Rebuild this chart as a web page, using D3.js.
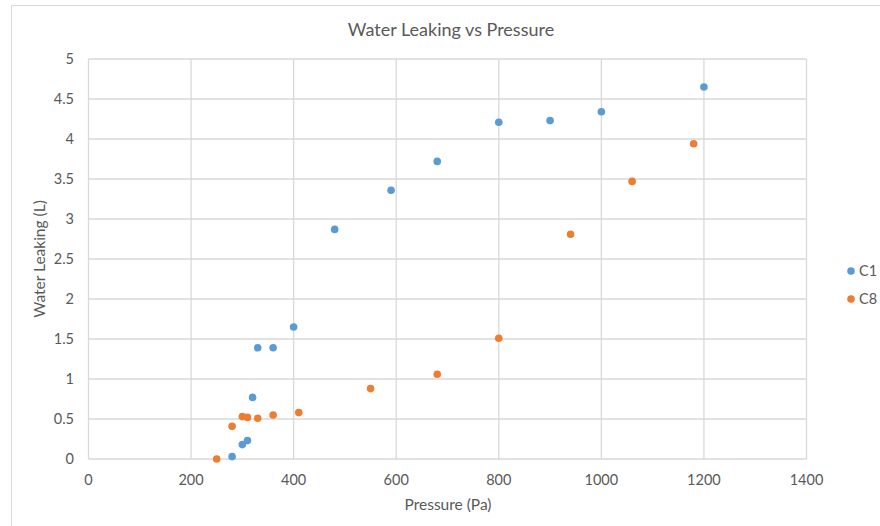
<!DOCTYPE html>
<html>
<head>
<meta charset="utf-8">
<script src="https://cdn.jsdelivr.net/npm/d3@7"></script>
<style>
  body { margin: 0; background: #fff; }
  text { font-family: Lato, "Open Sans", sans-serif; fill: #595959; }
</style>
</head>
<body>
<script>
// Series
var seriesNames = ["C1", "C8"];
var c1Pressure = [280, 300, 310, 320, 330, 360, 400, 480, 590, 680, 800, 900, 1000, 1200];
var c1Water = [0.03, 0.18, 0.23, 0.77, 1.39, 1.39, 1.65, 2.87, 3.36, 3.72, 4.21, 4.23, 4.34, 4.65];
var c8Pressure = [250, 280, 300, 310, 330, 360, 410, 550, 680, 800, 940, 1060, 1180];
var c8Water = [0.0, 0.41, 0.53, 0.52, 0.51, 0.55, 0.58, 0.88, 1.06, 1.51, 2.81, 3.47, 3.94];
var xTicks = [0, 200, 400, 600, 800, 1000, 1200, 1400];
var yTicks = [0, 0.5, 1, 1.5, 2, 2.5, 3, 3.5, 4, 4.5, 5];

var colors = ["#5b9bd5", "#ed7d31"];
var width = 880, height = 526;

var svg = d3.select("body")
.append("svg")
.attr("width", width)
.attr("height", height);

// chart frame (right and bottom fall off the image)
svg.append("rect")
.attr("x", 11.5).attr("y", 5.5)
.attr("width", 900).attr("height", 560)
.attr("fill", "#fff")
.attr("stroke", "#d9d9d9");

var x_Scale = d3.scaleLinear()
.domain([0, 1400])
.range([88.5, 806.5]);

var y_Scale = d3.scaleLinear()
.domain([0, 5])
.range([459, 59]);

// gridlines
svg.append("g").selectAll("line")
.data(xTicks).enter().append("line")
.attr("x1", function(d) {return x_Scale(d);})
.attr("x2", function(d) {return x_Scale(d);})
.attr("y1", y_Scale(0)).attr("y2", y_Scale(5))
.attr("stroke", "#d9d9d9").attr("stroke-width", 1.3);

svg.append("g").selectAll("line")
.data(yTicks).enter().append("line")
.attr("x1", x_Scale(0)).attr("x2", x_Scale(1400))
.attr("y1", function(d) {return y_Scale(d);})
.attr("y2", function(d) {return y_Scale(d);})
.attr("stroke", "#d9d9d9").attr("stroke-width", 1.3);

// tick labels
svg.append("g").selectAll("text")
.data(yTicks).enter().append("text")
.attr("x", 74)
.attr("y", function(d) {return y_Scale(d) + 5;})
.attr("text-anchor", "end")
.style("font-size", "14.5px")
.text(function(d) {return d;});

svg.append("g").selectAll("text")
.data(xTicks).enter().append("text")
.attr("x", function(d) {return x_Scale(d);})
.attr("y", 485)
.attr("text-anchor", "middle")
.style("font-size", "14.5px")
.text(function(d) {return d;});

// titles
svg.append("text")
.attr("x", 451).attr("y", 36)
.attr("text-anchor", "middle")
.style("font-size", "18px")
.text("Water Leaking vs Pressure");

svg.append("text")
.attr("x", 448).attr("y", 510)
.attr("text-anchor", "middle")
.style("font-size", "15.5px")
.text("Pressure (Pa)");

svg.append("text")
.attr("transform", "rotate(-90)")
.attr("x", -259).attr("y", 45)
.attr("text-anchor", "middle")
.style("font-size", "15.5px")
.text("Water Leaking (L)");

// points
var allSeries = [
  {name: seriesNames[0], xs: c1Pressure, ys: c1Water},
  {name: seriesNames[1], xs: c8Pressure, ys: c8Water}
];

allSeries.forEach(function(s, i) {
  svg.append("g").selectAll("circle")
  .data(s.xs).enter().append("circle")
  .attr("cx", function(d) {return x_Scale(d);})
  .attr("cy", function(d, j) {return y_Scale(s.ys[j]);})
  .attr("r", 3.8)
  .attr("fill", colors[i]);
});

// legend
var legend = svg.append("g").selectAll("g")
.data(seriesNames).enter().append("g")
.attr("transform", function(d, i) {return "translate(851," + (271 + i * 28) + ")";});

legend.append("circle")
.attr("r", 3.8)
.attr("fill", function(d, i) {return colors[i];});

legend.append("text")
.attr("x", 8).attr("y", 5)
.style("font-size", "14.5px")
.text(function(d) {return d;});
</script>
</body>
</html>
